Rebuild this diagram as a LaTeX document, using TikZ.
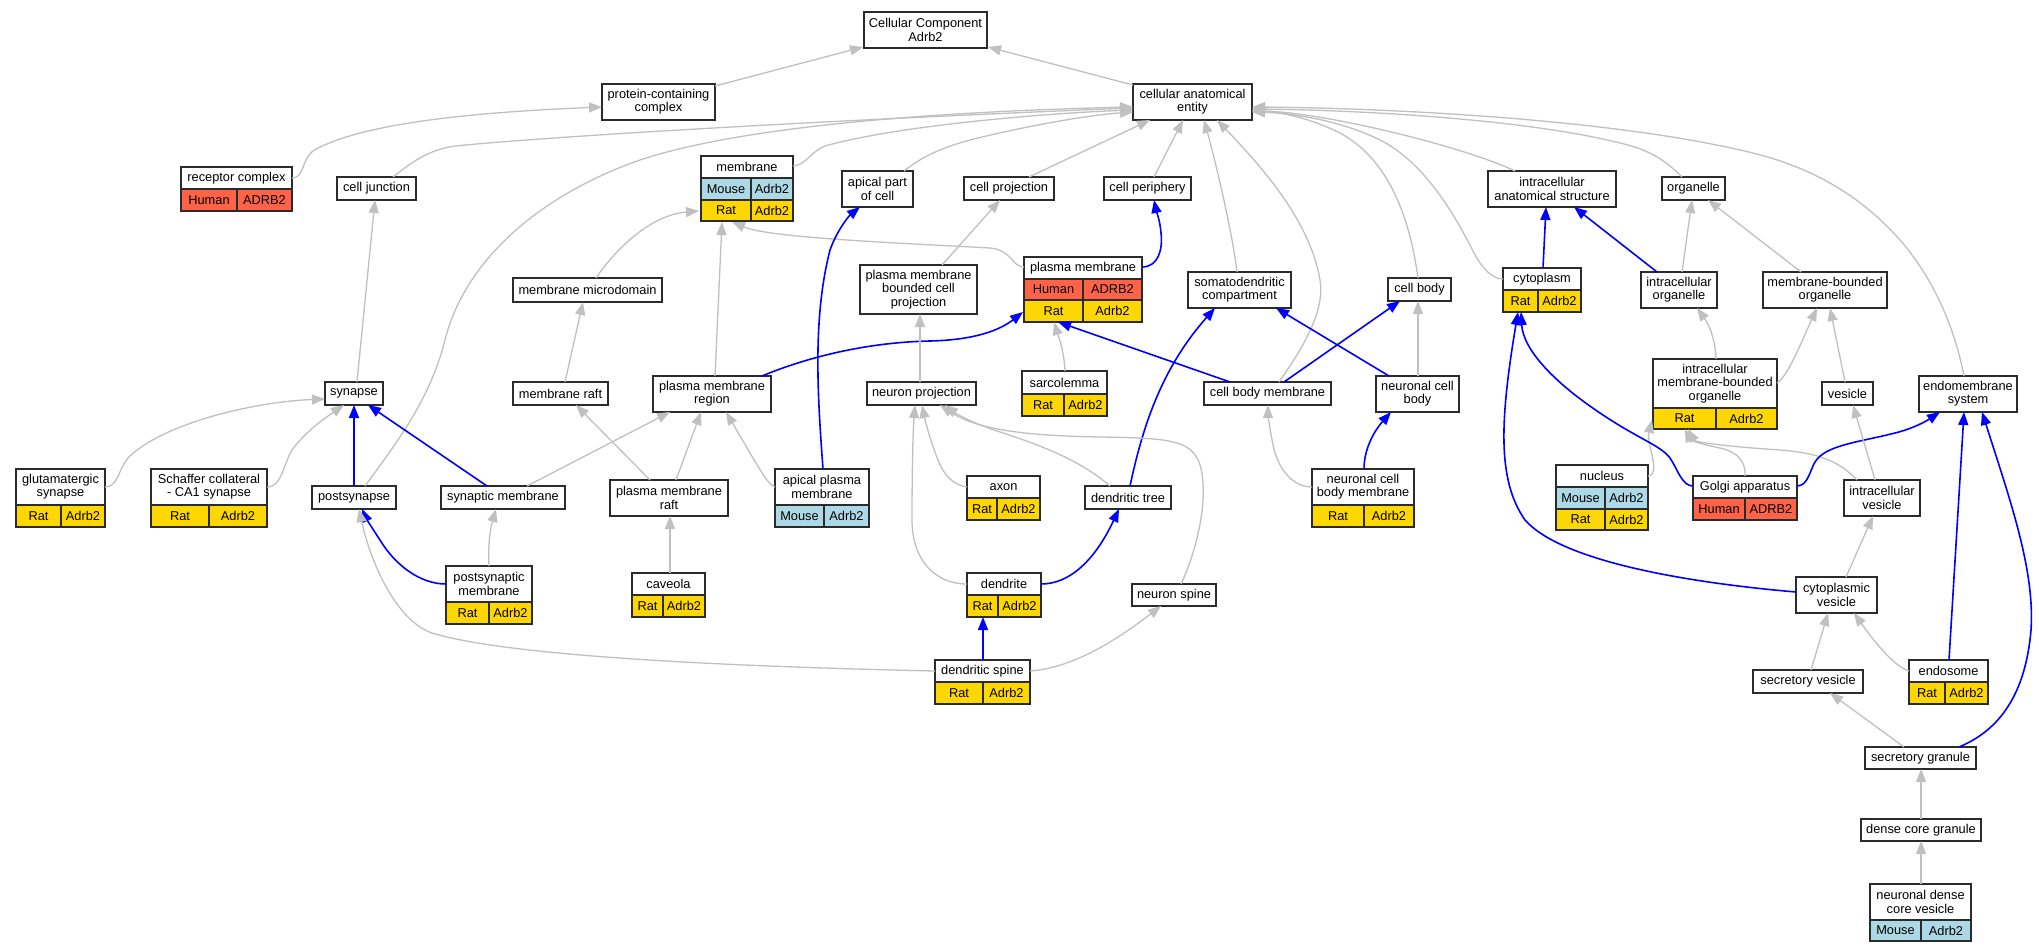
\documentclass[tikz,border=0pt]{standalone}
\usepackage{fontspec}
\setmainfont{Liberation Sans}
\usetikzlibrary{arrows.meta,calc}
\definecolor{ratgold}{HTML}{FFD700}
\definecolor{mouseblue}{HTML}{ADD8E6}
\definecolor{humanred}{HTML}{FF6347}
\definecolor{edgegray}{HTML}{C0C0C0}
\definecolor{boxline}{HTML}{2B2B2B}
\newcommand\gobox[6]{\node[gnode, minimum width={#4-#2}, minimum height={#5-#3}] (#1) at ({(#2+#4)/2},{(#3+#5)/2}) {#6};}
\newcommand\gocell[7]{\node[gnode, fill=#6, minimum width={#4-#2}, minimum height={#5-#3}] (#1) at ({(#2+#4)/2},{(#3+#5)/2}) {#7};}
\newcommand\gorow[9]{\gocell{#1a}{#2}{#5}{#3}{#6}{#7}{#8}\gocell{#1b}{#3}{#5}{#4}{#6}{#7}{#9}}
\newcommand\goframe[5]{\node[gframe, minimum width={#4-#2}, minimum height={#5-#3}] (#1) at ({(#2+#4)/2},{(#3+#5)/2}) {};}
\begin{document}
\begin{tikzpicture}[x=1pt,y=-1pt,
  gnode/.style={draw=boxline, line width=1.4pt, fill=white, inner sep=0pt, outer sep=0pt, align=center, font=\fontsize{12.8}{13.3}\selectfont},
  gframe/.style={draw=boxline, line width=1.4pt, inner sep=0pt, outer sep=0pt},
  isa/.style={draw=edgegray, line width=1.3pt, -{Triangle[length=13pt,width=10pt]}},
  partof/.style={draw=blue, line width=1.6pt, -{Triangle[length=13pt,width=10pt]}}]
\useasboundingbox[fill=white] (0,0) rectangle (2039,952);
% plain nodes
\gobox{cc}{864}{12}{987}{48}{Cellular Component\\Adrb2}
\gobox{pcc}{602}{84}{715}{120}{protein-containing\\complex}
\gobox{cae}{1133}{84}{1252}{120}{cellular anatomical\\entity}
\gobox{cj}{337}{177}{416}{200}{cell junction}
\gobox{apc}{842}{171}{913}{207}{apical part\\of cell}
\gobox{cp}{964}{177}{1054}{200}{cell projection}
\gobox{cper}{1104}{177}{1191}{200}{cell periphery}
\gobox{ias}{1488}{171}{1616}{207}{intracellular\\anatomical structure}
\gobox{org}{1662}{177}{1725}{200}{organelle}
\gobox{mmd}{513}{278}{662}{302}{membrane microdomain}
\gobox{pmbcp}{860}{265}{977}{314}{plasma membrane\\bounded cell\\projection}
\gobox{sdc}{1188}{272}{1291}{308}{somatodendritic\\compartment}
\gobox{cb}{1388}{278}{1451}{301}{cell body}
\gobox{io}{1641}{272}{1717}{308}{intracellular\\organelle}
\gobox{mbo}{1763}{272}{1887}{308}{membrane-bounded\\organelle}
\gobox{syn}{325}{382}{383}{405}{synapse}
\gobox{mr}{513}{382}{608}{405}{membrane raft}
\gobox{pmr}{653}{376}{771}{412}{plasma membrane\\region}
\gobox{np}{867}{382}{976}{405}{neuron projection}
\gobox{cbm}{1204}{382}{1331}{405}{cell body membrane}
\gobox{ncb}{1376}{376}{1459}{412}{neuronal cell\\body}
\gobox{ves}{1822}{382}{1873}{405}{vesicle}
\gobox{ems}{1919}{376}{2017}{412}{endomembrane\\system}
\gobox{psy}{312}{486}{396}{509}{postsynapse}
\gobox{sm}{441}{486}{565}{509}{synaptic membrane}
\gobox{pmraft}{610}{480}{728}{516}{plasma membrane\\raft}
\gobox{dt}{1085}{486}{1171}{509}{dendritic tree}
\gobox{iv}{1844}{480}{1920}{516}{intracellular\\vesicle}
\gobox{ns}{1132}{584}{1216}{606}{neuron spine}
\gobox{cv}{1796}{577}{1877}{613}{cytoplasmic\\vesicle}
\gobox{sv}{1753}{670}{1863}{693}{secretory vesicle}
\gobox{sg}{1865}{747}{1976}{769}{secretory granule}
\gobox{dcg}{1861}{819}{1981}{841}{dense core granule}
% table nodes
\gocell{rcT}{181}{167}{292}{189}{white}{receptor complex}
\gorow{rcH}{181}{237}{292}{189}{211}{humanred}{Human}{ADRB2}
\goframe{rc}{181}{167}{292}{211}
\gocell{memT}{701}{156}{793}{178}{white}{membrane}
\gorow{memM}{701}{751}{793}{178}{200}{mouseblue}{Mouse}{Adrb2}
\gorow{memR}{701}{751}{793}{200}{221}{ratgold}{Rat}{Adrb2}
\goframe{mem}{701}{156}{793}{221}
\gocell{pmT}{1024}{257}{1142}{279}{white}{plasma membrane}
\gorow{pmH}{1024}{1083}{1142}{279}{300}{humanred}{Human}{ADRB2}
\gorow{pmR}{1024}{1083}{1142}{300}{322}{ratgold}{Rat}{Adrb2}
\goframe{pm}{1024}{257}{1142}{322}
\gocell{cytT}{1503}{268}{1581}{290}{white}{cytoplasm}
\gorow{cytR}{1503}{1538}{1581}{290}{312}{ratgold}{Rat}{Adrb2}
\goframe{cyt}{1503}{268}{1581}{312}
\gocell{glutT}{16}{469}{105}{505}{white}{glutamatergic\\synapse}
\gorow{glutR}{16}{61}{105}{505}{527}{ratgold}{Rat}{Adrb2}
\goframe{glut}{16}{469}{105}{527}
\gocell{schT}{151}{469}{267}{505}{white}{Schaffer collateral\\- CA1 synapse}
\gorow{schR}{151}{209}{267}{505}{527}{ratgold}{Rat}{Adrb2}
\goframe{sch}{151}{469}{267}{527}
\gocell{psmT}{446}{566}{532}{602}{white}{postsynaptic\\membrane}
\gorow{psmR}{446}{489}{532}{602}{624}{ratgold}{Rat}{Adrb2}
\goframe{psm}{446}{566}{532}{624}
\gocell{cavT}{632}{573}{705}{595}{white}{caveola}
\gorow{cavR}{632}{663}{705}{595}{617}{ratgold}{Rat}{Adrb2}
\goframe{cav}{632}{573}{705}{617}
\gocell{sarcT}{1022}{371}{1107}{394}{white}{sarcolemma}
\gorow{sarcR}{1022}{1064}{1107}{394}{416}{ratgold}{Rat}{Adrb2}
\goframe{sarc}{1022}{371}{1107}{416}
\gocell{apmT}{775}{469}{869}{505}{white}{apical plasma\\membrane}
\gorow{apmM}{775}{824}{869}{505}{527}{mouseblue}{Mouse}{Adrb2}
\goframe{apm}{775}{469}{869}{527}
\gocell{axonT}{967}{476}{1040}{498}{white}{axon}
\gorow{axonR}{967}{997}{1040}{498}{520}{ratgold}{Rat}{Adrb2}
\goframe{axon}{967}{476}{1040}{520}
\gocell{denT}{967}{573}{1041}{595}{white}{dendrite}
\gorow{denR}{967}{998}{1041}{595}{617}{ratgold}{Rat}{Adrb2}
\goframe{den}{967}{573}{1041}{617}
\gocell{dsT}{935}{660}{1030}{682}{white}{dendritic spine}
\gorow{dsR}{935}{983}{1030}{682}{704}{ratgold}{Rat}{Adrb2}
\goframe{ds}{935}{660}{1030}{704}
\gocell{ncbmT}{1312}{469}{1414}{505}{white}{neuronal cell\\body membrane}
\gorow{ncbmR}{1312}{1364}{1414}{505}{527}{ratgold}{Rat}{Adrb2}
\goframe{ncbm}{1312}{469}{1414}{527}
\gocell{imboT}{1653}{359}{1777}{408}{white}{intracellular\\membrane-bounded\\organelle}
\gorow{imboR}{1653}{1716}{1777}{408}{429}{ratgold}{Rat}{Adrb2}
\goframe{imbo}{1653}{359}{1777}{429}
\gocell{nucT}{1556}{465}{1648}{487}{white}{nucleus}
\gorow{nucM}{1556}{1605}{1648}{487}{509}{mouseblue}{Mouse}{Adrb2}
\gorow{nucR}{1556}{1605}{1648}{509}{530}{ratgold}{Rat}{Adrb2}
\goframe{nuc}{1556}{465}{1648}{530}
\gocell{golgiT}{1693}{476}{1797}{498}{white}{Golgi apparatus}
\gorow{golgiH}{1693}{1745}{1797}{498}{520}{humanred}{Human}{ADRB2}
\goframe{golgi}{1693}{476}{1797}{520}
\gocell{endoT}{1909}{660}{1988}{682}{white}{endosome}
\gorow{endoR}{1909}{1945}{1988}{682}{704}{ratgold}{Rat}{Adrb2}
\goframe{endo}{1909}{660}{1988}{704}
\gocell{ndcvT}{1870}{884}{1971}{920}{white}{neuronal dense\\core vesicle}
\gorow{ndcvM}{1870}{1921}{1971}{920}{941}{mouseblue}{Mouse}{Adrb2}
\goframe{ndcv}{1870}{884}{1971}{941}
% edges
\draw[isa] ($(pcc.north west)+(113,2)$) -- ($(cc.north west)+(-1,35)$);
\draw[isa] ($(cae.north west)+(0,1)$) -- ($(cc.north west)+(124,35)$);
\draw[isa] ($(rc.north west)+(111,11)$) .. controls (306,178) and (300,156) .. (318,148) .. controls (370,122) and (480,112) .. ($(pcc.north west)+(0,23)$);
\draw[isa] ($(cj.north west)+(56,0)$) .. controls (412,162) and (428,150) .. (455,146) .. controls (600,132) and (950,115) .. ($(cae.north west)+(0,24)$);
\draw[isa] ($(psy.north west)+(53,0)$) .. controls (395,445) and (430,400) .. (445,340) .. controls (465,260) and (540,195) .. (640,160) .. controls (760,120) and (1000,110) .. ($(cae.north west)+(0,23)$);
\draw[isa] ($(mem.north west)+(92,10)$) .. controls (805,166) and (810,152) .. (825,146) .. controls (900,125) and (1050,113) .. ($(cae.north west)+(0,26)$);
\draw[isa] ($(apc.north west)+(62,0)$) .. controls (920,158) and (940,148) .. (970,140) .. controls (1030,125) and (1090,115) .. ($(cae.north west)+(0,28)$);
\draw[isa] ($(cp.north west)+(65,0)$) -- ($(cae.north west)+(17,36)$);
\draw[isa] ($(cper.north west)+(50,0)$) -- ($(cae.north west)+(50,36)$);
\draw[isa] ($(sdc.north west)+(49,0)$) .. controls (1232,230) and (1215,160) .. ($(cae.north west)+(71,36)$);
\draw[isa] ($(cbm.north west)+(75,0)$) .. controls (1305,345) and (1325,310) .. (1320,280) .. controls (1310,220) and (1260,165) .. ($(cae.north west)+(84,36)$);
\draw[isa] ($(cb.north west)+(30,0)$) .. controls (1410,220) and (1390,160) .. (1340,133) .. controls (1310,118) and (1280,112) .. ($(cae.north west)+(119,27)$);
\draw[isa] ($(cyt.north west)+(0,11)$) .. controls (1492,279) and (1482,268) .. (1474,253) .. controls (1450,205) and (1420,160) .. (1380,140) .. controls (1340,120) and (1290,113) .. ($(cae.north west)+(119,28)$);
\draw[isa] ($(ias.north west)+(27,0)$) .. controls (1460,145) and (1320,112) .. ($(cae.north west)+(119,27)$);
\draw[isa] ($(org.north west)+(20,0)$) .. controls (1665,160) and (1650,150) .. (1620,143) .. controls (1520,118) and (1350,110) .. ($(cae.north west)+(119,25)$);
\draw[isa] ($(ems.north west)+(45,0)$) .. controls (1955,330) and (1935,280) .. (1900,240) .. controls (1860,195) and (1810,165) .. (1740,150) .. controls (1600,118) and (1380,108) .. ($(cae.north west)+(119,23)$);
\draw[isa] ($(mmd.north west)+(83,0)$) .. controls (615,250) and (650,215) .. ($(mem.north west)+(-2,55)$);
\draw[isa] ($(pm.north west)+(0,10)$) .. controls (1012,267) and (1012,250) .. (990,248) .. controls (900,243) and (770,238) .. ($(mem.north west)+(31,66)$);
\draw[isa] ($(pmr.north west)+(62,0)$) -- ($(mem.north west)+(21,66)$);
\draw[isa] ($(pmbcp.north west)+(82,0)$) -- ($(cp.north west)+(36,23)$);
\draw[partof] ($(pm.north west)+(118,10)$) .. controls (1158,267) and (1163,250) .. (1161,233) .. controls (1160,220) and (1156,210) .. ($(cper.north west)+(50,23)$);
\draw[isa] ($(mr.north west)+(52,0)$) -- ($(mmd.north west)+(70,24)$);
\draw[isa] ($(syn.north west)+(32,0)$) -- ($(cj.north west)+(38,23)$);
\draw[isa] ($(glut.north west)+(89,18)$) .. controls (118,487) and (118,470) .. (128,458) .. controls (160,425) and (250,402) .. ($(syn.north west)+(0,17)$);
\draw[isa] ($(sch.north west)+(116,18)$) .. controls (282,487) and (283,465) .. (292,450) .. controls (305,432) and (325,418) .. ($(syn.north west)+(19,23)$);
\draw[partof] ($(psy.north west)+(42,0)$) -- ($(syn.north west)+(29,23)$);
\draw[partof] ($(sm.north west)+(46,0)$) -- ($(syn.north west)+(43,23)$);
\draw[isa] ($(sm.north west)+(86,0)$) -- ($(pmr.north west)+(17,36)$);
\draw[isa] ($(pmraft.north west)+(40,0)$) -- ($(mr.north west)+(63,23)$);
\draw[isa] ($(pmraft.north west)+(66,0)$) -- ($(pmr.north west)+(48,36)$);
\draw[isa] ($(apm.north west)+(0,18)$) .. controls (768,485) and (760,470) .. ($(pmr.north west)+(73,36)$);
\draw[isa] ($(psm.north west)+(43,0)$) .. controls (488,545) and (490,530) .. ($(sm.north west)+(55,23)$);
\draw[partof] ($(psm.north west)+(0,18)$) .. controls (420,584) and (395,565) .. (380,540) .. controls (372,528) and (366,518) .. ($(psy.north west)+(50,23)$);
\draw[isa] ($(ds.north west)+(0,11)$) .. controls (800,668) and (520,660) .. (432,633) .. controls (395,620) and (370,560) .. ($(psy.north west)+(47,23)$);
\draw[isa] ($(cav.north west)+(38,0)$) -- ($(pmraft.north west)+(60,36)$);
\draw[partof] ($(apm.north west)+(48,0)$) .. controls (818,400) and (812,320) .. (830,250) .. controls (838,228) and (850,215) .. ($(apc.north west)+(18,36)$);
\draw[partof] ($(pmr.north west)+(109,0)$) .. controls (820,352) and (880,342) .. (930,341) .. controls (975,340) and (1000,330) .. ($(pm.north west)+(-1,55)$);
\draw[isa] ($(np.north west)+(53,0)$) -- ($(pmbcp.north west)+(60,49)$);
\draw[isa] ($(sarc.north west)+(43,0)$) .. controls (1064,350) and (1058,335) .. ($(pm.north west)+(30,65)$);
\draw[partof] ($(cbm.north west)+(26,0)$) -- ($(pm.north west)+(34,65)$);
\draw[partof] ($(cbm.north west)+(80,0)$) -- ($(cb.north west)+(12,23)$);
\draw[partof] ($(ncb.north west)+(13,0)$) -- ($(sdc.north west)+(88,36)$);
\draw[partof] ($(dt.north west)+(45,0)$) .. controls (1142,430) and (1160,370) .. ($(sdc.north west)+(27,36)$);
\draw[isa] ($(ncb.north west)+(42,0)$) -- ($(cb.north west)+(30,23)$);
\draw[partof] ($(ncbm.north west)+(52,0)$) .. controls (1364,448) and (1375,430) .. ($(ncb.north west)+(15,36)$);
\draw[isa] ($(ncbm.north west)+(0,18)$) .. controls (1290,487) and (1277,465) .. (1273,445) .. controls (1270,430) and (1268,415) .. ($(cbm.north west)+(64,23)$);
\draw[isa] ($(axon.north west)+(0,11)$) .. controls (955,485) and (945,478) .. (938,460) .. controls (930,440) and (925,420) .. ($(np.north west)+(55,23)$);
\draw[isa] ($(den.north west)+(0,11)$) .. controls (935,584) and (912,560) .. (912,520) .. controls (912,470) and (913,430) .. ($(np.north west)+(48,23)$);
\draw[isa] ($(dt.north west)+(25,0)$) .. controls (1080,460) and (1040,445) .. (1000,432) .. controls (975,424) and (958,415) .. ($(np.north west)+(78,23)$);
\draw[isa] ($(ns.north west)+(49,0)$) .. controls (1195,555) and (1210,500) .. (1200,465) .. controls (1192,440) and (1170,438) .. (1100,437) .. controls (1040,436) and (980,432) .. ($(np.north west)+(73,23)$);
\draw[partof] ($(den.north west)+(74,11)$) .. controls (1070,584) and (1095,560) .. ($(dt.north west)+(34,23)$);
\draw[partof] ($(ds.north west)+(48,0)$) -- ($(den.north west)+(16,44)$);
\draw[isa] ($(ds.north west)+(95,11)$) .. controls (1070,668) and (1110,645) .. ($(ns.north west)+(29,22)$);
\draw[partof] ($(cyt.north west)+(40,0)$) -- ($(ias.north west)+(58,36)$);
\draw[partof] ($(io.north west)+(16,0)$) -- ($(ias.north west)+(86,36)$);
\draw[isa] ($(io.north west)+(41,0)$) -- ($(org.north west)+(30,23)$);
\draw[isa] ($(mbo.north west)+(38,0)$) -- ($(org.north west)+(46,23)$);
\draw[isa] ($(imbo.north west)+(63,0)$) .. controls (1715,335) and (1707,322) .. ($(io.north west)+(56,36)$);
\draw[isa] ($(imbo.north west)+(124,24)$) .. controls (1788,376) and (1800,345) .. ($(mbo.north west)+(54,36)$);
\draw[isa] ($(ves.north west)+(23,0)$) -- ($(mbo.north west)+(67,36)$);
\draw[isa] ($(nuc.north west)+(92,11)$) .. controls (1662,474) and (1646,445) .. ($(imbo.north west)+(-1,61)$);
\draw[isa] ($(golgi.north west)+(52,0)$) .. controls (1746,462) and (1738,452) .. (1720,448) .. controls (1700,444) and (1690,440) .. ($(imbo.north west)+(32,70)$);
\draw[isa] ($(iv.north west)+(13,0)$) .. controls (1840,462) and (1820,453) .. (1780,450) .. controls (1720,446) and (1695,442) .. ($(imbo.north west)+(35,70)$);
\draw[partof] ($(golgi.north west)+(0,10)$) .. controls (1682,486) and (1678,470) .. (1670,458) .. controls (1660,445) and (1640,440) .. (1600,413) .. controls (1555,383) and (1523,350) .. ($(cyt.north west)+(18,44)$);
\draw[partof] ($(golgi.north west)+(104,10)$) .. controls (1808,486) and (1810,470) .. (1815,462) .. controls (1825,445) and (1860,442) .. (1895,433) .. controls (1915,428) and (1928,420) .. ($(ems.north west)+(21,36)$);
\draw[isa] ($(iv.north west)+(31,0)$) -- ($(ves.north west)+(31,23)$);
\draw[isa] ($(cv.north west)+(50,0)$) -- ($(iv.north west)+(29,36)$);
\draw[partof] ($(cv.north west)+(0,15)$) .. controls (1680,582) and (1560,560) .. (1525,520) .. controls (1497,480) and (1500,420) .. ($(cyt.north west)+(15,44)$);
\draw[isa] ($(endo.north west)+(0,11)$) .. controls (1898,668) and (1880,650) .. ($(cv.north west)+(58,36)$);
\draw[partof] ($(endo.north west)+(40,0)$) -- ($(ems.north west)+(45,36)$);
\draw[isa] ($(sv.north west)+(58,0)$) -- ($(cv.north west)+(32,36)$);
\draw[isa] ($(sg.north west)+(39,0)$) -- ($(sv.north west)+(77,23)$);
\draw[partof] ($(sg.north west)+(94,0)$) .. controls (1995,732) and (2025,700) .. (2031,630) .. controls (2035,570) and (2010,500) .. ($(ems.north west)+(63,36)$);
\draw[isa] ($(dcg.north west)+(60,0)$) -- ($(sg.north west)+(56,22)$);
\draw[isa] ($(ndcv.north west)+(51,0)$) -- ($(dcg.north west)+(60,22)$);
\end{tikzpicture}
\end{document}
